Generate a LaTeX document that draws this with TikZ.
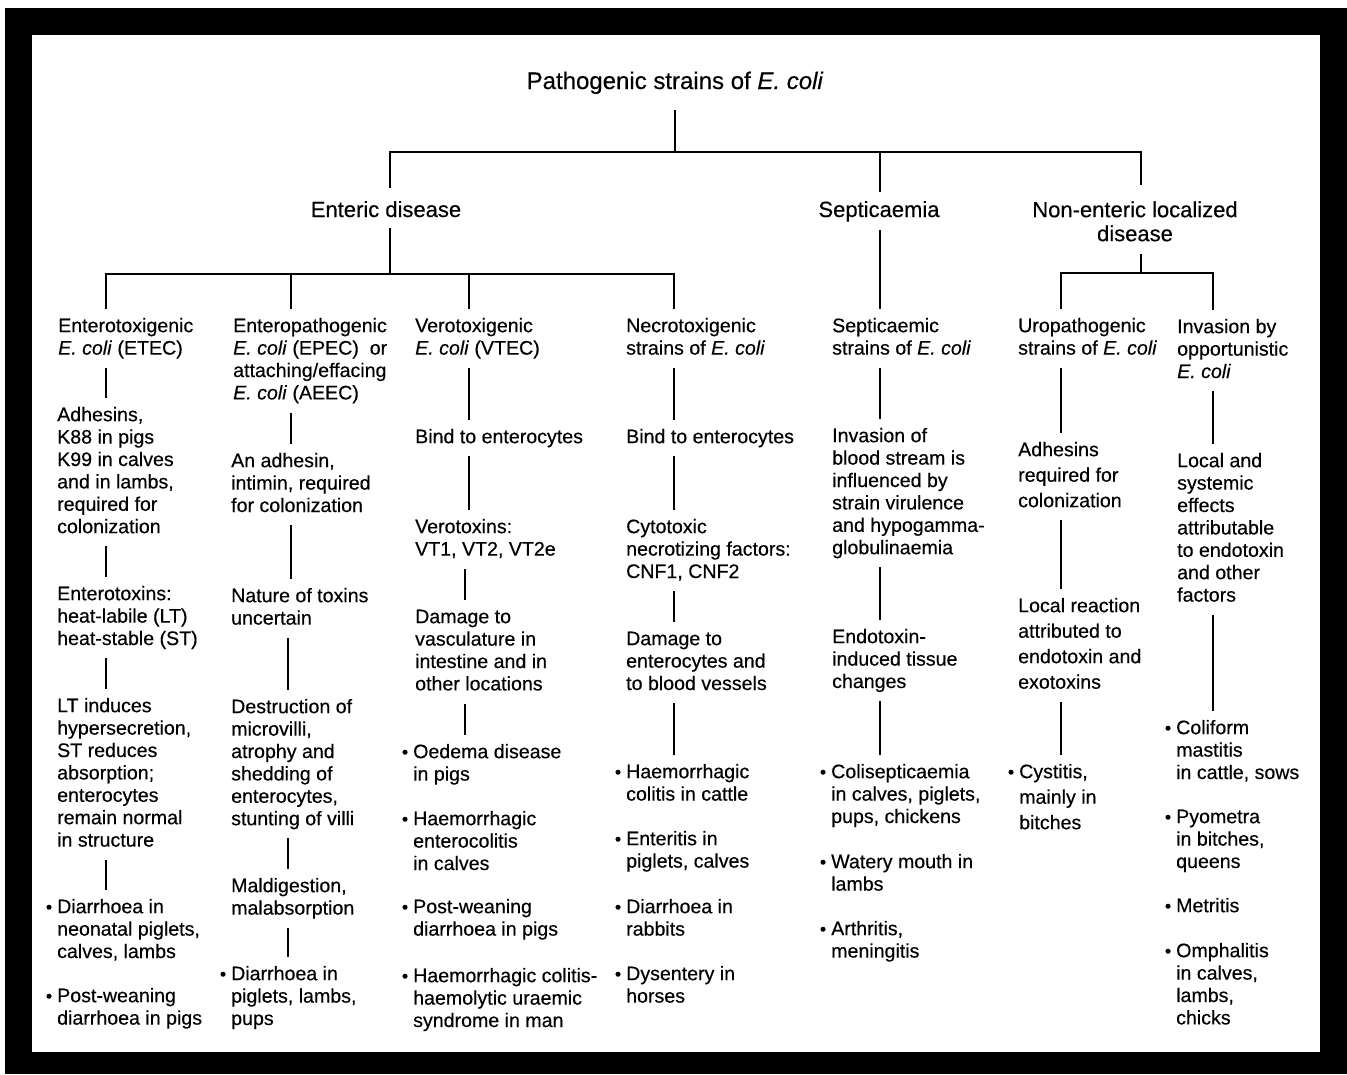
\documentclass[tikz,border=0pt]{standalone}
\usepackage{fontspec}
\setmainfont{Liberation Sans}[FakeBold=0.35]
\newcommand\mystrut[2]{\rule[-#2]{0pt}{\dimexpr#1+#2\relax}}
\newcommand\STa{\mystrut{23pt}{0pt}}
\newcommand\STb{\mystrut{0pt}{13pt}}
\newcommand\bul{\llap{\fontsize{18}{18}\selectfont\textbullet\hspace{5pt}}}
\newcommand\Ec{\textit{E. coli}}
\begin{document}
\begin{tikzpicture}[x=1pt,y=-1pt,
 txt/.style={anchor=north west,inner sep=0pt,align=left,font=\fontsize{19.6}{22.4}\selectfont},
 txtw/.style={txt,font=\fontsize{19.6}{25.5}\selectfont},
 head/.style={inner sep=0pt,align=center,font=\fontsize{22}{24}\selectfont},
 conn/.style={line width=1.6pt},
 barA/.style={line width=2.6pt},
 barB/.style={line width=2pt}]
\fill[white] (0,0) rectangle (1347,1074);
\fill[black] (5,8) rectangle (1347,1074);
\fill[white] (32,35) rectangle (1320,1052);
\useasboundingbox (0,0) rectangle (1347,1074);

% headings
\node[head,font=\fontsize{24}{26}\selectfont,anchor=base] (title) at (675,89) {Pathogenic strains of \Ec\mystrut{0pt}{21pt}};
\node[head,anchor=base] (ent) at (386,217) {\mystrut{29pt}{11pt}Enteric disease};
\node[head,anchor=base] (sep) at (879,217) {\mystrut{25pt}{13pt}Septicaemia};
\node[head,anchor=north] (non) at (1135,185) {\mystrut{32pt}{0pt}Non-enteric localized\\disease\mystrut{0pt}{13pt}};

% column 1
\node[txt] (n11) at (58,309) {\STa Enterotoxigenic\\\Ec{} (ETEC)\STb};
\node[txt] (n12) at (57,398) {\STa Adhesins,\\K88 in pigs\\K99 in calves\\and in lambs,\\required for\\colonization\STb};
\node[txt] (n13) at (57,577) {\STa Enterotoxins:\\heat-labile (LT)\\heat-stable (ST)\STb};
\node[txt] (n14) at (57,689) {\STa LT induces\\hypersecretion,\\ST reduces\\absorption;\\enterocytes\\remain normal\\in structure\STb};
\node[txt] (n15) at (57,890) {\STa\bul Diarrhoea in\\neonatal piglets,\\calves, lambs\STb};
\node[txt] (n16) at (57,979) {\STa\bul Post-weaning\\diarrhoea in pigs\STb};

% column 2
\node[txt] (n21) at (233,309) {\STa Enteropathogenic\\\Ec{} (EPEC)~~or\\attaching/effacing\\\Ec{} (AEEC)\STb};
\node[txt] (n22) at (231,444) {\STa An adhesin,\\intimin, required\\for colonization\STb};
\node[txt] (n23) at (231,579) {\STa Nature of toxins\\uncertain\STb};
\node[txt] (n24) at (231,690) {\STa Destruction of\\microvilli,\\atrophy and\\shedding of\\enterocytes,\\stunting of villi\STb};
\node[txt] (n25) at (231,869) {\STa Maldigestion,\\malabsorption\STb};
\node[txt] (n26) at (231,957) {\STa\bul Diarrhoea in\\piglets, lambs,\\pups\STb};

% column 3
\node[txt] (n31) at (415,309) {\STa Verotoxigenic\\\Ec{} (VTEC)\STb};
\node[txt] (n32) at (415,420) {\STa Bind to enterocytes\STb};
\node[txt] (n33) at (415,510) {\STa Verotoxins:\\VT1, VT2, VT2e\STb};
\node[txt] (n34) at (415,600) {\STa Damage to\\vasculature in\\intestine and in\\other locations\STb};
\node[txt] (n35) at (413,735) {\STa\bul Oedema disease\\in pigs\STb};
\node[txt] (n36) at (413,802) {\STa\bul Haemorrhagic\\enterocolitis\\in calves\STb};
\node[txt] (n37) at (413,890) {\STa\bul Post-weaning\\diarrhoea in pigs\STb};
\node[txt] (n38) at (413,959) {\STa\bul Haemorrhagic colitis-\\haemolytic uraemic\\syndrome in man\STb};

% column 4
\node[txt] (n41) at (626,309) {\STa Necrotoxigenic\\strains of \Ec\STb};
\node[txt] (n42) at (626,420) {\STa Bind to enterocytes\STb};
\node[txt] (n43) at (626,510) {\STa Cytotoxic\\necrotizing factors:\\CNF1, CNF2\STb};
\node[txt] (n44) at (626,622) {\STa Damage to\\enterocytes and\\to blood vessels\STb};
\node[txt] (n45) at (626,755) {\STa\bul Haemorrhagic\\colitis in cattle\STb};
\node[txt] (n46) at (626,822) {\STa\bul Enteritis in\\piglets, calves\STb};
\node[txt] (n47) at (626,890) {\STa\bul Diarrhoea in\\rabbits\STb};
\node[txt] (n48) at (626,957) {\STa\bul Dysentery in\\horses\STb};

% column 5
\node[txt] (n51) at (832,309) {\STa Septicaemic\\strains of \Ec\STb};
\node[txt] (n52) at (832,419) {\STa Invasion of\\blood stream is\\influenced by\\strain virulence\\and hypogamma-\\globulinaemia\STb};
\node[txt] (n53) at (832,620) {\STa Endotoxin-\\induced tissue\\changes\STb};
\node[txt] (n54) at (831,755) {\STa\bul Colisepticaemia\\in calves, piglets,\\pups, chickens\STb};
\node[txt] (n55) at (831,845) {\STa\bul Watery mouth in\\lambs\STb};
\node[txt] (n56) at (831,912) {\STa\bul Arthritis,\\meningitis\STb};

% column 6
\node[txt] (n61) at (1018,309) {\STa Uropathogenic\\strains of \Ec\STb};
\node[txtw] (n62) at (1018,433) {\STa Adhesins\\required for\\colonization\STb};
\node[txtw] (n63) at (1018,589) {\STa Local reaction\\attributed to\\endotoxin and\\exotoxins\STb};
\node[txtw] (n64) at (1019,755) {\STa\bul Cystitis,\\mainly in\\bitches\STb};

% column 7
\node[txt] (n71) at (1177,310) {\STa Invasion by\\opportunistic\\\Ec\STb};
\node[txt] (n72) at (1177,444) {\STa Local and\\systemic\\effects\\attributable\\to endotoxin\\and other\\factors\STb};
\node[txt] (n73) at (1176,711) {\STa\bul Coliform\\mastitis\\in cattle, sows\STb};
\node[txt] (n74) at (1176,800) {\STa\bul Pyometra\\in bitches,\\queens\STb};
\node[txt] (n75) at (1176,889) {\STa\bul Metritis\STb};
\node[txt] (n76) at (1176,934) {\STa\bul Omphalitis\\in calves,\\lambs,\\chicks\STb};

% junctions
\coordinate (jT) at (675,152);
\coordinate (jE) at (390,152);
\coordinate (jS) at (880,152);
\coordinate (jN) at (1141,152);
\coordinate (sE) at (390,274);
\coordinate (sN) at (1141,273);
\coordinate (c1) at (106,0);
\coordinate (c2a) at (291,0);
\coordinate (c2b) at (288,0);
\coordinate (c3a) at (469,0);
\coordinate (c3b) at (465,0);
\coordinate (c4) at (674,0);
\coordinate (c5) at (880,0);
\coordinate (c6) at (1061,0);
\coordinate (c7) at (1213,0);

% tree lines
\draw[barA] (title.south) -- (jT);
\draw[barA] (ent.north -| jE) |- (jN) -- (non.north -| jN);
\draw[barA] (jS) -- (sep.north -| jS);
\draw[barB] (ent.south -| jE) -- (sE);
\draw[barB] (n11.north -| c1) |- (sE) -| (n41.north -| c4);
\draw[barB] (sE -| c2a) -- (n21.north -| c2a);
\draw[barB] (sE -| c3a) -- (n31.north -| c3a);
\draw[barB] (sep.south -| c5) -- (n51.north -| c5);
\draw[barB] (non.south -| sN) -- (sN);
\draw[barB] (n61.north -| c6) |- (sN) -| (n71.north -| c7);

\foreach \a/\b/\c in {n11/n12/c1,n12/n13/c1,n13/n14/c1,n14/n15/c1,
  n21/n22/c2a,n22/n23/c2a,n23/n24/c2b,n24/n25/c2b,n25/n26/c2b,
  n31/n32/c3a,n32/n33/c3a,n33/n34/c3b,n34/n35/c3b,
  n41/n42/c4,n42/n43/c4,n43/n44/c4,n44/n45/c4,
  n51/n52/c5,n52/n53/c5,n53/n54/c5,
  n61/n62/c6,n62/n63/c6,n63/n64/c6,
  n71/n72/c7,n72/n73/c7}
  \draw[conn] (\a.south -| \c) -- (\b.north -| \c);
\end{tikzpicture}
\end{document}
